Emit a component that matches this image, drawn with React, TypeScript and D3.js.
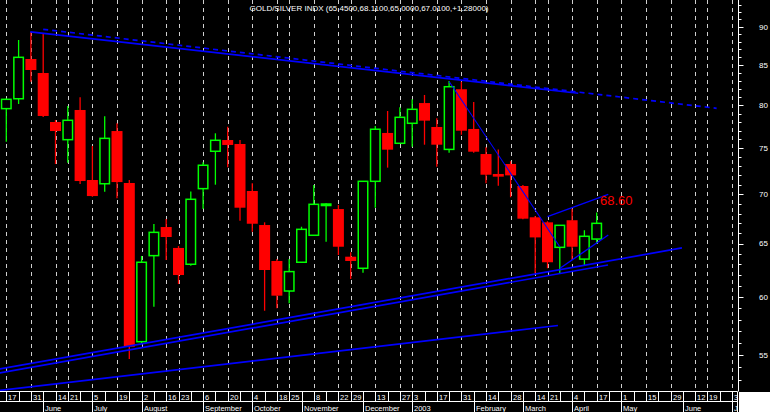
import React from 'react';
import * as d3 from 'd3';

// Weekly candles, week index 0 = 17 May 2002
const opens = [79.59, 80.78, 85.74, 83.96, 78.01, 75.97, 79.43, 71.51, 71.11, 76.96, 71.19, 56.11, 63.84, 66.64, 64.58, 63.02, 70.59, 74.66, 75.93, 75.48, 70.34, 66.84, 63.33, 60.54, 63.21, 65.82, 68.95, 68.46, 63.74, 62.64, 71.37, 76.74, 75.56, 77.86, 80.26, 77.43, 74.87, 81.94, 77.2, 74.35, 72.16, 73.25, 70.87, 67.62, 67.11, 64.64, 67.32, 63.51, 65.45];
const highs = [80.8, 88.22, 89.3, 89.11, 78.25, 79.9, 80.96, 75.25, 78.68, 77.86, 71.51, 63.81, 66.94, 67.45, 64.77, 70.3, 73.44, 76.7, 77.46, 75.93, 71.15, 67.11, 63.51, 63.51, 66.67, 70.97, 69.05, 68.88, 64.16, 71.37, 77.54, 79.31, 79.75, 80.71, 81.24, 78.44, 82.96, 82.87, 80.39, 75.11, 74.87, 73.54, 70.97, 67.75, 67.21, 66.81, 68.49, 66.31, 68.11];
const lows = [75.74, 80.15, 82.87, 78.6, 73.25, 73.39, 71.08, 69.74, 70.26, 69.58, 54.68, 55.92, 59.13, 63.42, 61.18, 62.89, 68.46, 71.01, 72.88, 67.27, 66.18, 58.77, 59.0, 59.44, 63.21, 65.82, 65.19, 63.9, 61.64, 62.23, 68.6, 72.85, 75.56, 75.18, 75.4, 72.95, 74.5, 76.53, 74.5, 71.15, 70.9, 69.68, 67.41, 62.16, 62.64, 62.16, 63.42, 62.86, 65.0];
const closes = [80.71, 85.96, 84.34, 78.72, 76.96, 78.21, 71.4, 69.81, 76.12, 71.29, 55.69, 63.21, 66.11, 65.65, 62.01, 69.47, 73.11, 75.9, 75.37, 68.6, 66.97, 62.48, 60.12, 62.33, 66.41, 68.95, 68.98, 64.7, 63.33, 71.37, 77.17, 74.84, 78.56, 79.51, 78.17, 75.4, 82.25, 77.0, 74.61, 72.08, 71.87, 72.01, 67.48, 65.61, 63.21, 66.81, 64.7, 65.72, 67.01];

const totalWeeks = 60;
const dayLabels = ["17", "31", "14", "21", "5", "19", "2", "16", "23", "6", "20", "4", "18", "25", "8", "22", "29", "13", "27", "3", "17", "31", "14", "28", "14", "21", "4", "17", "1", "15", "29", "12", "19", "3"];
const dayLabelWeeks = [0, 2, 4, 5, 7, 9, 11, 13, 14, 16, 18, 20, 22, 23, 25, 27, 28, 30, 32, 33, 35, 37, 39, 41, 43, 44, 46, 48, 50, 52, 54, 56, 57, 59];
const monthLabels = ["June", "July", "August", "September", "October", "November", "December", "2003", "February", "March", "April", "May", "June", "July"];
const monthWeeks = [3, 7, 11, 16, 20, 24, 29, 33, 38, 42, 46, 50, 55, 59];
const yMajorTicks = [55, 60, 65, 70, 75, 80, 85, 90];
const yMinorTicks = d3.range(53, 94);

const titleText = "GOLD/SILVER INDX (65.4500,68.1100,65.0000,67.0100,+1.28000)";

// Trendlines: [startWeek, startValue, endWeek, endValue]
const trendNames = ["topSolid", "topDashed", "supportA", "supportB", "supportC", "fall", "chanUp", "chanLo"];
const trendStartWeek = [1.95, 3.0, -0.52, -0.52, -0.52, 36, 44, 45.02];
const trendStartValue = [89.3, 89.65, 53.86, 53.54, 52.15, 82.9, 67.68, 62.64];
const trendEndWeek = [46.5, 57.75, 54.93, 48.92, 44.85, 45, 48.94, 48.94];
const trendEndValue = [81.45, 79.63, 64.58, 62.95, 57.49, 64.7, 69.99, 65.85];

const annotationText = "68.60";
const annotationWeek = 48.27;
const annotationValue = 68.9;

const W = 770;
const H = 412;
const plotRight = 738.5;
const plotBottom = 391.5;
const dayRowBottom = 401.5;

export default function App() {
  const x = d3.scaleLinear().domain([0, totalWeeks - 1]).range([6.3, 732]);
  const y = d3.scaleLog().domain([55, 90]).range([355, 26.7]);
  const bw = 11;
  const font = "'Liberation Sans', Arial, sans-serif";

  const weeks = d3.range(totalWeeks);
  const candles = opens.map((o, i) => ({ i, o, h: highs[i], l: lows[i], c: closes[i] }));

  const trendStyle: Record<string, { w: number; dash?: string }> = {
    topSolid: { w: 1.7 },
    topDashed: { w: 1.7, dash: '5,4' },
    supportA: { w: 1.7 },
    supportB: { w: 1.7 },
    supportC: { w: 1.7 },
    fall: { w: 1.1 },
    chanUp: { w: 1.4 },
    chanLo: { w: 1.4 },
  };

  const monthEnd = (k: number) => (k + 1 < monthWeeks.length ? x(monthWeeks[k + 1]) : 737);

  return (
    <svg width={W} height={H} style={{ position: 'absolute', left: 0, top: 0, display: 'block' }}>
      <defs>
        <clipPath id="plotClip">
          <rect x={0} y={0} width={plotRight} height={plotBottom} />
        </clipPath>
        {monthLabels.map((m, k) => (
          <clipPath id={`mclip${k}`} key={k}>
            <rect x={x(monthWeeks[k])} y={dayRowBottom} width={monthEnd(k) - x(monthWeeks[k])} height={H - dayRowBottom} />
          </clipPath>
        ))}
      </defs>
      <rect x={0} y={0} width={W} height={H} fill="#000" />
      <rect x={739} y={392} width={W - 739} height={H - 392} fill="#fff" />

      {/* grid */}
      <g clipPath="url(#plotClip)">
        {dayLabelWeeks.map((w, k) => (
          <line key={k} x1={Math.round(x(w)) + 0.5} x2={Math.round(x(w)) + 0.5} y1={0} y2={plotBottom}
            stroke="#cfcfcf" strokeWidth={1} strokeDasharray="4,4" />
        ))}
      </g>

      {/* candles */}
      <g clipPath="url(#plotClip)">
        {candles.map(d => {
          const cx = x(d.i);
          const up = d.c >= d.o;
          const col = up ? '#00ff00' : '#ff0000';
          const top = y(Math.max(d.o, d.c));
          const bot = y(Math.min(d.o, d.c));
          const hgt = Math.max(bot - top, 1.5);
          return (
            <g key={d.i}>
              <line x1={cx} x2={cx} y1={y(d.h)} y2={y(d.l)} stroke={col} strokeWidth={1.3} />
              {up ? (
                <rect x={cx - bw / 2 + 0.75} y={top} width={bw - 1.5} height={hgt} fill="#000" stroke={col} strokeWidth={1.5} />
              ) : (
                <rect x={cx - bw / 2} y={top} width={bw} height={hgt} fill={col} />
              )}
            </g>
          );
        })}
      </g>

      {/* trendlines */}
      <g clipPath="url(#plotClip)">
        {trendNames.map((n, k) => (
          <line key={n} x1={x(trendStartWeek[k])} y1={y(trendStartValue[k])} x2={x(trendEndWeek[k])} y2={y(trendEndValue[k])}
            stroke="#0000ff" strokeWidth={trendStyle[n].w} strokeDasharray={trendStyle[n].dash} />
        ))}
      </g>

      <text x={x(annotationWeek)} y={y(annotationValue)} fill="#ff0000" fontFamily={font} fontSize={13}>{annotationText}</text>

      {/* title */}
      <text x={369} y={10.7} fill="#fff" fontFamily={font} fontSize={8} textAnchor="middle" textLength={239} lengthAdjust="spacingAndGlyphs">{titleText}</text>

      {/* y axis */}
      <line x1={plotRight} x2={plotRight} y1={0} y2={plotBottom} stroke="#fff" strokeWidth={1} />
      {yMinorTicks.map(v => (
        <line key={v} x1={plotRight} x2={plotRight + 3} y1={Math.round(y(v)) + 0.5} y2={Math.round(y(v)) + 0.5} stroke="#fff" strokeWidth={1} />
      ))}
      {yMajorTicks.map(v => (
        <g key={v}>
          <line x1={plotRight} x2={plotRight + 5} y1={Math.round(y(v)) + 0.5} y2={Math.round(y(v)) + 0.5} stroke="#fff" strokeWidth={1} />
          <text x={759} y={y(v)} dy="0.35em" fill="#fff" fontFamily={font} fontSize={8}>{v}</text>
        </g>
      ))}

      {/* x axis */}
      <line x1={0} x2={737.5} y1={plotBottom} y2={plotBottom} stroke="#fff" strokeWidth={1} />
      <line x1={0} x2={737.5} y1={dayRowBottom} y2={dayRowBottom} stroke="#fff" strokeWidth={1} />
      {weeks.map(w => (
        <line key={w} x1={Math.round(x(w)) + 0.5} x2={Math.round(x(w)) + 0.5} y1={plotBottom} y2={dayRowBottom} stroke="#fff" strokeWidth={1} />
      ))}
      <line x1={737.5} x2={737.5} y1={plotBottom} y2={H} stroke="#fff" strokeWidth={1} />
      {dayLabels.map((t, k) => (
        <text key={k} x={Math.round(x(dayLabelWeeks[k])) + 2} y={400.3} fill="#fff" fontFamily={font} fontSize={7.5}>{t}</text>
      ))}
      {monthWeeks.map((w, k) => (
        <line key={k} x1={Math.round(x(w)) + 0.5} x2={Math.round(x(w)) + 0.5} y1={dayRowBottom} y2={H} stroke="#fff" strokeWidth={1} />
      ))}
      {monthLabels.map((m, k) => (
        <text key={k} clipPath={`url(#mclip${k})`} x={Math.round(x(monthWeeks[k])) + 2} y={410.5} fill="#fff" fontFamily={font} fontSize={7.5}>{m}</text>
      ))}
    </svg>
  );
}
